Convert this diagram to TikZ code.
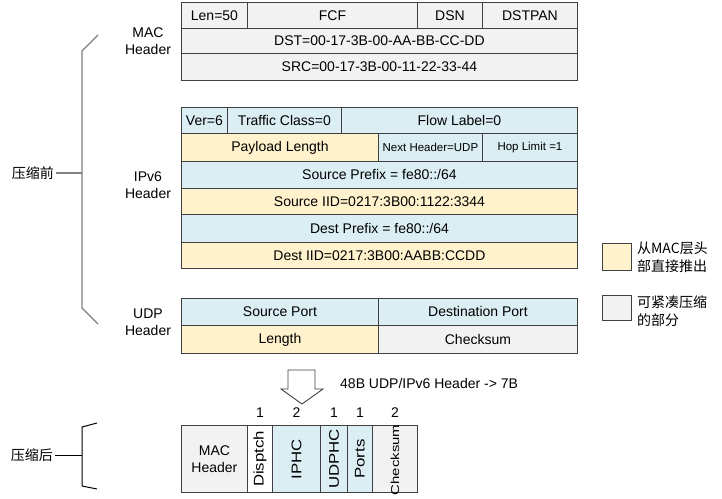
\documentclass[tikz,border=0pt]{standalone}
\usepackage{fontspec}
\setmainfont{Liberation Sans}
\newfontfamily\cjk{Noto Sans CJK SC}
\usepackage{tikz}
\usetikzlibrary{positioning}

\definecolor{fieldline}{HTML}{404040}
\definecolor{hdrblue}{HTML}{DAEEF3}
\definecolor{hdryellow}{HTML}{FFF2CC}
\definecolor{hdrgray}{HTML}{F2F2F2}
\definecolor{bracegray}{HTML}{7F7F7F}

\tikzset{
    field/.style={draw=fieldline, line width=0.9pt, inner sep=0pt, anchor=north west,
        font=\fontsize{14}{17}\selectfont},
    blue field/.style={field, fill=hdrblue},
    yellow field/.style={field, fill=hdryellow},
    gray field/.style={field, fill=hdrgray},
    small/.style={font=\fontsize{11.5}{14}\selectfont},
    vlabel/.style={rotate=90, inner sep=0pt, font=\fontsize{14}{17}\selectfont},
    num/.style={inner sep=0pt, font=\fontsize{14}{17}\selectfont},
    hlabel/.style={align=center, inner sep=0pt, font=\fontsize{14}{17.5}\selectfont},
    cjklabel/.style={inner sep=2pt, font=\cjk\fontsize{14}{18}\selectfont},
    bracel/.style={line width=1.2pt},
}

\begin{document}
\begin{tikzpicture}[x=1pt, y=-1pt]
    \useasboundingbox (0,0) rectangle (722,498);

    % MAC header
    \node[gray field, minimum width=66pt, minimum height=26pt] (len) at (181,2) {Len=50};
    \node[gray field, minimum width=170pt, minimum height=26pt] (fcf) at (247,2) {FCF};
    \node[gray field, minimum width=65pt, minimum height=26pt] (dsn) at (417,2) {DSN};
    \node[gray field, minimum width=95pt, minimum height=26pt] (dstpan) at (482,2) {DSTPAN};
    \node[gray field, minimum width=396pt, minimum height=25pt] (dst) at (181,28) {DST=00-17-3B-00-AA-BB-CC-DD};
    \node[gray field, minimum width=396pt, minimum height=27pt] (src) at (181,53) {SRC=00-17-3B-00-11-22-33-44};

    % IPv6 header
    \node[blue field, minimum width=46pt, minimum height=26pt] (ver) at (181,107) {Ver=6};
    \node[blue field, minimum width=114pt, minimum height=26pt] (tclass) at (227,107) {Traffic Class=0};
    \node[blue field, minimum width=236pt, minimum height=26pt] (flow) at (341,107) {Flow Label=0};
    \node[yellow field, minimum width=197pt, minimum height=28pt] (plen) at (181,133) {Payload Length};
    \node[blue field, small, minimum width=104pt, minimum height=28pt] (nexthdr) at (378,133) {Next Header=UDP};
    \node[blue field, small, minimum width=95pt, minimum height=28pt] (hoplim) at (482,133) {Hop Limit =1};
    \node[blue field, minimum width=396pt, minimum height=27pt] (srcpre) at (181,161) {Source Prefix = fe80::/64};
    \node[yellow field, minimum width=396pt, minimum height=26pt] (srciid) at (181,188) {Source IID=0217:3B00:1122:3344};
    \node[blue field, minimum width=396pt, minimum height=28pt] (dstpre) at (181,214) {Dest Prefix = fe80::/64};
    \node[yellow field, minimum width=396pt, minimum height=26pt] (dstiid) at (181,242) {Dest IID=0217:3B00:AABB:CCDD};

    % UDP header
    \node[blue field, minimum width=197pt, minimum height=27pt] (sport) at (181,298) {Source Port};
    \node[blue field, minimum width=199pt, minimum height=27pt] (dport) at (378,298) {Destination Port};
    \node[yellow field, minimum width=197pt, minimum height=28pt] (ulen) at (181,325) {Length};
    \node[gray field, minimum width=199pt, minimum height=28pt] (ucsum) at (378,325) {Checksum};

    % header names
    \node[hlabel] (maclab) at (148,41) {MAC\\Header};
    \node[hlabel] (ip6lab) at (148,185) {IPv6\\Header};
    \node[hlabel] (udplab) at (148,322) {UDP\\Header};

    % brace before compression
    \node[cjklabel, anchor=east] (pre) at (56,173) {压缩前};
    \coordinate (pretop) at (98,35);
    \coordinate (preup) at (82,51);
    \coordinate (premid) at (82,173);
    \coordinate (predown) at (82,308);
    \coordinate (prebot) at (98,324);
    \draw[bracel, bracegray] (pretop) -- (preup) -- (predown) -- (prebot);
    \draw[bracel, bracegray] (pre.east) -- (premid);

    % legend
    \node[yellow field, minimum width=29pt, minimum height=27pt] (key1) at (602,243) {};
    \node[cjklabel, align=left, anchor=west, inner sep=0pt, right=5pt of key1] (key1txt) {从MAC层头\\部直接推出};
    \node[gray field, minimum width=29pt, minimum height=25pt] (key2) at (602,295) {};
    \node[cjklabel, align=left, anchor=west, inner sep=0pt, right=5pt of key2, yshift=-3pt] (key2txt) {可紧凑压缩\\的部分};

    % arrow
    \draw[fieldline, line width=0.9pt, fill=white] (288,370) -- (315,370) -- (315,389) -- (323,389)
        -- (302,404) -- (281,389) -- (288,389) -- cycle;
    \node[num, anchor=west] (ratio) at (340,383) {48B UDP/IPv6 Header -> 7B};

    % compressed header
    \node[gray field, align=center, minimum width=66pt, minimum height=67pt] (cmac) at (181,425) {MAC\\Header};
    \node[field, fill=white, minimum width=25pt, minimum height=67pt] (disp) at (247,425) {};
    \node[blue field, minimum width=48pt, minimum height=67pt] (iphc) at (272,425) {};
    \node[blue field, minimum width=27pt, minimum height=67pt] (udphc) at (320,425) {};
    \node[blue field, minimum width=25pt, minimum height=67pt] (ports) at (347,425) {};
    \node[gray field, minimum width=45pt, minimum height=67pt] (ccsum) at (372,425) {};
    \node[vlabel] at (disp) {\scalebox{1.2}[1]{Disptch}};
    \node[vlabel] at (iphc) {\scalebox{1.2}[1]{IPHC}};
    \node[vlabel] at (udphc) {\scalebox{1.2}[1]{UDPHC}};
    \node[vlabel] at (ports) {\scalebox{1.2}[1]{Ports}};
    \node[vlabel, font=\fontsize{11.5}{13}\selectfont, xshift=-1pt] at (ccsum) {\scalebox{1.3}[1]{Checksum}};

    % byte counts
    \node[num, above=7pt of disp] {1};
    \node[num, above=7pt of iphc] {2};
    \node[num, above=7pt of udphc] {1};
    \node[num, above=7pt of ports] {1};
    \node[num, above=7pt of ccsum] {2};

    % brace after compression
    \node[cjklabel, anchor=east] (post) at (55,455) {压缩后};
    \coordinate (posttop) at (97,423);
    \coordinate (postup) at (82,427);
    \coordinate (postmid) at (82,455);
    \coordinate (postdown) at (82,486);
    \coordinate (postbot) at (97,489);
    \draw[line width=1pt] (posttop) -- (postup) -- (postdown) -- (postbot);
    \draw[line width=1pt] (post.east) -- (postmid);
\end{tikzpicture}
\end{document}
